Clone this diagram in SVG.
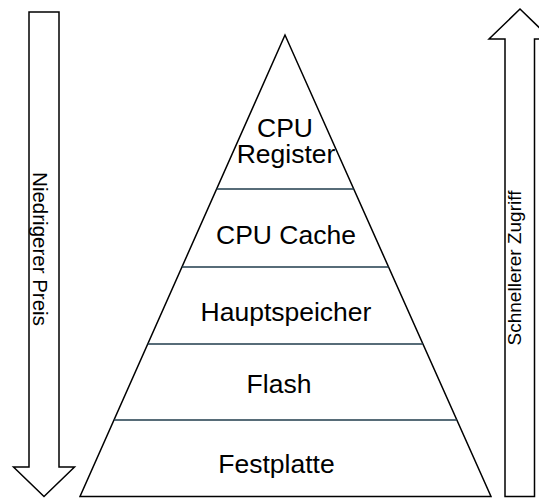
<svg xmlns="http://www.w3.org/2000/svg" width="539" height="498" viewBox="0 0 539 498">
  <style>
    .outline { fill: #ffffff; stroke: #000000; stroke-width: 1.5; stroke-linejoin: miter; }
    .level { stroke: #1f3b4b; stroke-width: 1.5; fill: none; }
    .label { font-family: "Liberation Sans", Arial, sans-serif; font-size: 26.5px; fill: #000000; text-anchor: middle; }
    .side { font-family: "Liberation Sans", Arial, sans-serif; fill: #000000; text-anchor: middle; }
  </style>
  <rect width="539" height="498" fill="#ffffff"/>

  <!-- Left arrow: pointing down -->
  <g id="arrow-price">
    <polygon class="outline" points="29,12 59,12 59,467 74.5,467 44,496.5 13.5,467 29,467"/>
    <text class="side" font-size="20.5" transform="translate(33,249) rotate(90)">Niedrigerer Preis</text>
  </g>

  <!-- Right arrow: pointing up -->
  <g id="arrow-speed">
    <polygon class="outline" points="520,9 551,39 534.5,39 534.5,496.5 505,496.5 505,39 489,39"/>
    <text class="side" font-size="19" transform="translate(521,268) rotate(-90)">Schnellerer Zugriff</text>
  </g>

  <!-- Pyramid outline -->
  <g id="pyramid">
    <polygon class="outline" points="285,35 80,496.5 491,496.5"/>
  </g>

  <!-- Level dividers -->
  <g id="dividers">
    <line class="level" x1="216.6" y1="189" x2="353.7" y2="189"/>
    <line class="level" x1="181.9" y1="267" x2="388.6" y2="267"/>
    <line class="level" x1="147.7" y1="344" x2="422.9" y2="344"/>
    <line class="level" x1="114.0" y1="420" x2="456.9" y2="420"/>
  </g>

  <g id="level-register">
    <text class="label" x="285" y="136.5">CPU</text>
    <text class="label" x="286" y="163">Register</text>
  </g>
  <g id="level-cache">
    <text class="label" x="286" y="244">CPU Cache</text>
  </g>
  <g id="level-ram">
    <text class="label" x="286" y="320.5">Hauptspeicher</text>
  </g>
  <g id="level-flash">
    <text class="label" x="279" y="393">Flash</text>
  </g>
  <g id="level-disk">
    <text class="label" x="276.5" y="472.5">Festplatte</text>
  </g>
</svg>
